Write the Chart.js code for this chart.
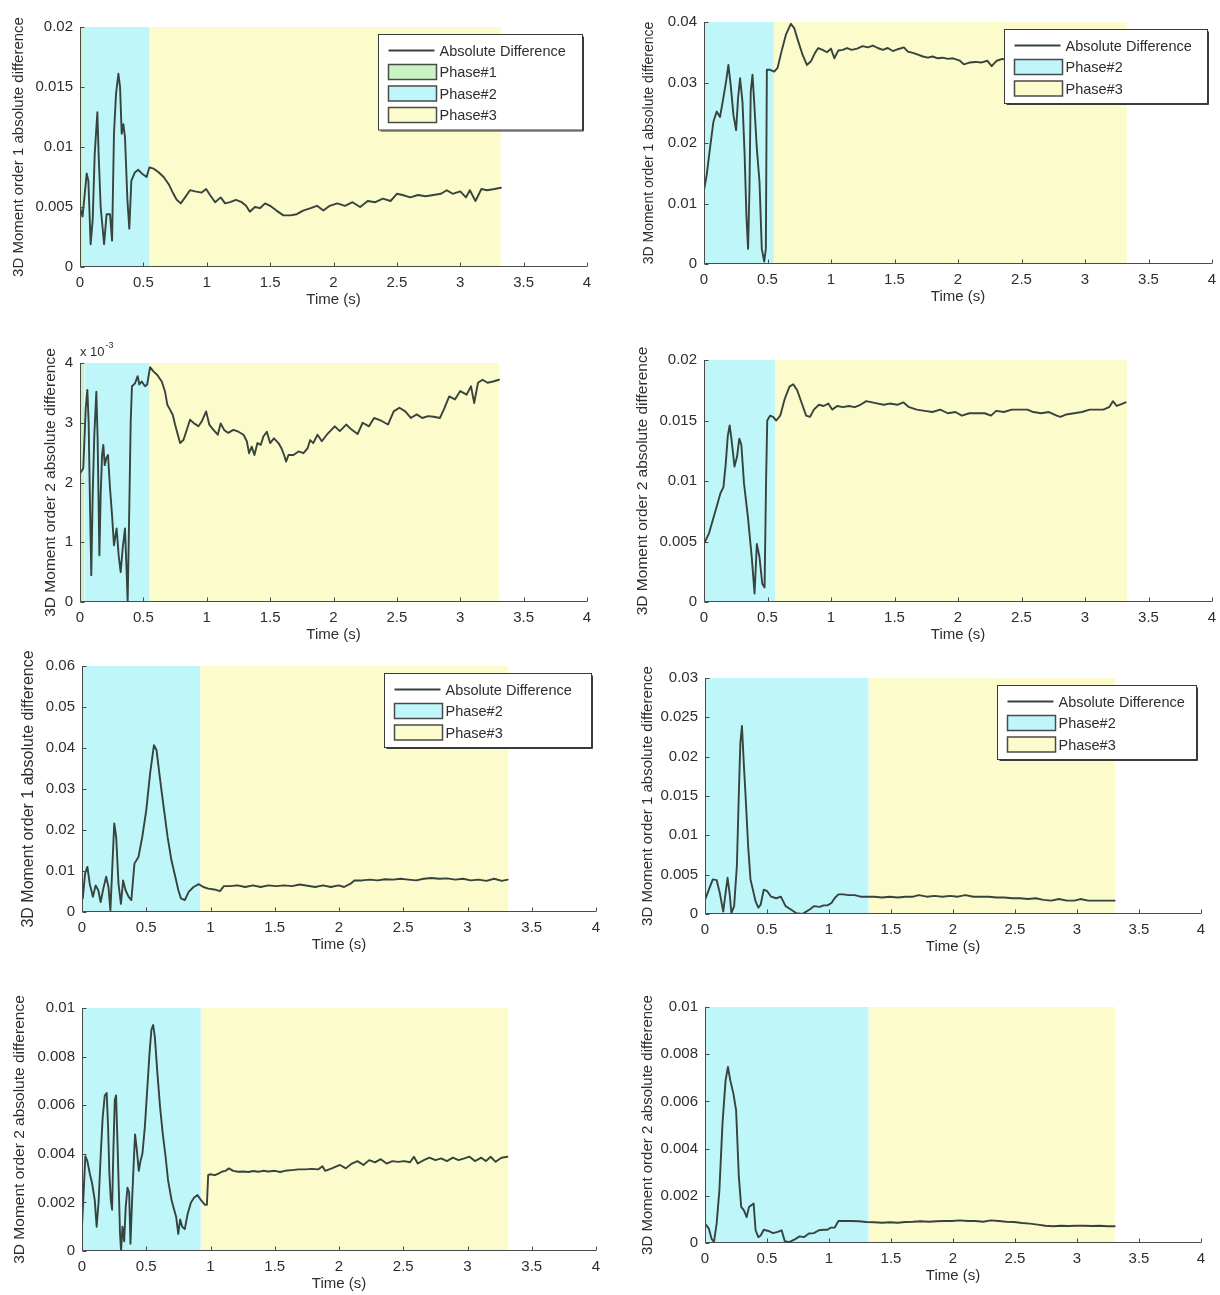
<!DOCTYPE html>
<html><head><meta charset="utf-8">
<script src="https://cdn.jsdelivr.net/npm/chart.js@4/dist/chart.umd.min.js"></script>
<style>
html,body{margin:0;padding:0;background:#fff;}
body{width:1220px;height:1295px;position:relative;overflow:hidden;}
canvas{position:absolute;}
</style>
</head><body>
<canvas id="c1"></canvas><canvas id="c2"></canvas><canvas id="c3"></canvas><canvas id="c4"></canvas>
<canvas id="c5"></canvas><canvas id="c6"></canvas><canvas id="c7"></canvas><canvas id="c8"></canvas>
<script>
// ---------------- DATA ----------------
const TIME_TICKS = [0,0.5,1,1.5,2,2.5,3,3.5,4];
const TIME_LABELS = ['0','0.5','1','1.5','2','2.5','3','3.5','4'];
const X_TITLE = 'Time (s)';
const Y_TITLE_1 = '3D Moment order 1 absolute difference';
const Y_TITLE_2 = '3D Moment order 2 absolute difference';
const LEGEND_3 = ['Absolute Difference','Phase#1','Phase#2','Phase#3'];
const LEGEND_2 = ['Absolute Difference','Phase#2','Phase#3'];

// phases: [phase number, start time, end time]
const PHASES_1 = [[1,0,0.03],[2,0.03,0.55],[3,0.55,3.32]];
const PHASES_2 = [[2,0,0.55],[3,0.55,3.33]];
const PHASES_3 = [[1,0,0.035],[2,0.035,0.55],[3,0.55,3.31]];
const PHASES_4 = [[2,0,0.56],[3,0.56,3.33]];
const PHASES_5 = [[2,0,0.92],[3,0.92,3.32]];
const PHASES_6 = [[2,0,1.32],[3,1.32,3.31]];
const PHASES_7 = [[2,0,0.925],[3,0.925,3.32]];
const PHASES_8 = [[2,0,1.32],[3,1.32,3.31]];

const Y_TICKS_1 = [0,0.005,0.01,0.015,0.02];  const Y_LABELS_1 = ['0','0.005','0.01','0.015','0.02'];
const Y_TICKS_2 = [0,0.01,0.02,0.03,0.04];    const Y_LABELS_2 = ['0','0.01','0.02','0.03','0.04'];
const Y_TICKS_3 = [0,1,2,3,4];                const Y_LABELS_3 = ['0','1','2','3','4'];
const Y_TICKS_4 = [0,0.005,0.01,0.015,0.02];  const Y_LABELS_4 = ['0','0.005','0.01','0.015','0.02'];
const Y_TICKS_5 = [0,0.01,0.02,0.03,0.04,0.05,0.06]; const Y_LABELS_5 = ['0','0.01','0.02','0.03','0.04','0.05','0.06'];
const Y_TICKS_6 = [0,0.005,0.01,0.015,0.02,0.025,0.03]; const Y_LABELS_6 = ['0','0.005','0.01','0.015','0.02','0.025','0.03'];
const Y_TICKS_7 = [0,0.002,0.004,0.006,0.008,0.01]; const Y_LABELS_7 = ['0','0.002','0.004','0.006','0.008','0.01'];
const Y_TICKS_8 = [0,0.002,0.004,0.006,0.008,0.01]; const Y_LABELS_8 = ['0','0.002','0.004','0.006','0.008','0.01'];

const T1 = [0,0.02,0.053,0.066,0.084,0.10,0.116,0.137,0.147,0.163,0.19,0.21,0.237,0.253,0.268,0.284,0.303,0.316,0.329,0.342,0.355,0.374,0.389,0.405,0.434,0.46,0.487,0.526,0.547,0.58,0.62,0.66,0.70,0.737,0.763,0.795,0.829,0.868,0.908,0.96,0.995,1.026,1.066,1.11,1.145,1.184,1.23,1.276,1.31,1.34,1.38,1.42,1.46,1.50,1.55,1.605,1.66,1.71,1.76,1.82,1.87,1.92,1.97,2.03,2.09,2.15,2.21,2.27,2.33,2.39,2.45,2.5,2.545,2.606,2.667,2.727,2.788,2.848,2.894,2.94,3.0,3.045,3.076,3.12,3.167,3.21,3.27,3.32];
const V1 = [0.005,0.0042,0.0078,0.0072,0.0019,0.0039,0.0094,0.0129,0.0094,0.005,0.0019,0.0044,0.0044,0.0022,0.0111,0.0144,0.0161,0.015,0.0111,0.0119,0.0108,0.0056,0.0032,0.0072,0.0079,0.0081,0.0078,0.0075,0.0083,0.0082,0.0079,0.0075,0.0069,0.0061,0.0056,0.0053,0.0058,0.0064,0.0063,0.0062,0.0065,0.006,0.0054,0.0058,0.0053,0.0054,0.0056,0.0054,0.0051,0.0046,0.005,0.0049,0.0053,0.0051,0.0047,0.0043,0.0043,0.0044,0.0047,0.0049,0.0051,0.0047,0.0051,0.0053,0.0051,0.0054,0.005,0.0055,0.0054,0.0057,0.0055,0.0061,0.006,0.0058,0.006,0.0059,0.006,0.0061,0.0064,0.0061,0.0063,0.0058,0.0064,0.0055,0.0065,0.0064,0.0065,0.0066];

const T2 = [0,0.021,0.047,0.074,0.1,0.126,0.147,0.174,0.192,0.21,0.232,0.253,0.268,0.284,0.303,0.32,0.334,0.347,0.358,0.368,0.382,0.395,0.416,0.437,0.455,0.474,0.487,0.495,0.52,0.553,0.579,0.61,0.645,0.684,0.71,0.742,0.776,0.81,0.842,0.874,0.9,0.934,0.968,1.0,1.026,1.058,1.092,1.126,1.163,1.205,1.25,1.29,1.33,1.368,1.408,1.447,1.487,1.526,1.574,1.605,1.645,1.684,1.724,1.763,1.8,1.84,1.88,1.92,1.96,2.015,2.046,2.09,2.137,2.183,2.23,2.265,2.305,2.35,2.45,2.6,2.75,2.9,3.05,3.2,3.33];
const V2 = [0.0122,0.0147,0.0191,0.0235,0.0252,0.0243,0.0268,0.0302,0.0329,0.0296,0.0246,0.0221,0.0274,0.0307,0.0268,0.018,0.008,0.0025,0.0124,0.0285,0.0313,0.0268,0.0191,0.0136,0.0025,0.0004,0.0025,0.0321,0.0321,0.0318,0.0324,0.0351,0.0379,0.0397,0.039,0.0368,0.0346,0.0329,0.0335,0.0349,0.0357,0.0354,0.035,0.0356,0.034,0.0353,0.0354,0.0357,0.0354,0.0356,0.036,0.0358,0.0361,0.0357,0.0354,0.0357,0.0352,0.0355,0.0358,0.0351,0.0349,0.0346,0.0343,0.0341,0.0343,0.034,0.0341,0.0339,0.034,0.0336,0.033,0.0333,0.0334,0.0333,0.0336,0.0327,0.0336,0.0339,0.0332,0.0334,0.0331,0.0333,0.033,0.0332,0.0331];

// values in units of 10^-3 (axis shows x 10^-3)
const T3 = [0,0.026,0.045,0.058,0.068,0.079,0.089,0.1,0.113,0.129,0.139,0.153,0.163,0.174,0.184,0.195,0.208,0.221,0.237,0.253,0.268,0.289,0.305,0.321,0.337,0.355,0.368,0.376,0.387,0.4,0.41,0.434,0.455,0.468,0.487,0.513,0.53,0.553,0.579,0.61,0.645,0.671,0.689,0.71,0.732,0.75,0.768,0.79,0.816,0.842,0.868,0.9,0.934,0.96,0.995,1.02,1.053,1.087,1.11,1.137,1.17,1.21,1.25,1.29,1.316,1.334,1.355,1.376,1.4,1.426,1.447,1.474,1.5,1.53,1.566,1.59,1.61,1.626,1.645,1.684,1.724,1.763,1.795,1.816,1.84,1.874,1.908,1.947,2.01,2.05,2.1,2.14,2.19,2.23,2.28,2.32,2.38,2.43,2.475,2.52,2.566,2.61,2.657,2.7,2.747,2.79,2.84,2.87,2.913,2.958,3.0,3.05,3.085,3.11,3.14,3.176,3.215,3.26,3.306];
const V3 = [2.15,2.24,3.24,3.55,3.02,1.62,0.45,1.79,2.8,3.52,2.74,0.78,1.79,2.46,2.63,2.29,2.41,2.46,1.9,1.45,0.95,1.23,0.78,0.5,0.9,1.23,0.5,0.0,1.34,3.02,3.61,3.66,3.78,3.64,3.69,3.61,3.64,3.93,3.86,3.8,3.69,3.52,3.3,3.22,3.13,2.97,2.83,2.66,2.71,2.88,3.05,2.99,2.94,3.02,3.19,2.97,2.88,2.8,2.99,2.88,2.83,2.88,2.85,2.8,2.69,2.49,2.6,2.46,2.66,2.63,2.77,2.85,2.66,2.74,2.66,2.57,2.46,2.35,2.46,2.46,2.52,2.49,2.57,2.71,2.66,2.8,2.69,2.8,2.94,2.86,2.97,2.89,2.81,3.0,2.94,3.08,3.03,2.97,3.19,3.25,3.19,3.08,3.14,3.08,3.11,3.1,3.08,3.22,3.44,3.39,3.53,3.47,3.61,3.33,3.67,3.72,3.67,3.69,3.72];

const T4 = [0,0.04,0.07,0.1,0.13,0.153,0.171,0.187,0.202,0.217,0.24,0.26,0.278,0.294,0.315,0.346,0.376,0.398,0.416,0.437,0.459,0.477,0.489,0.498,0.52,0.544,0.569,0.6,0.636,0.673,0.703,0.734,0.774,0.804,0.835,0.865,0.905,0.942,0.979,1.009,1.049,1.095,1.14,1.187,1.232,1.278,1.324,1.37,1.416,1.462,1.523,1.569,1.615,1.676,1.737,1.798,1.86,1.92,1.98,2.03,2.09,2.15,2.21,2.26,2.3,2.36,2.425,2.486,2.547,2.593,2.654,2.716,2.777,2.807,2.853,2.914,2.976,3.037,3.098,3.144,3.19,3.22,3.25,3.297,3.32];
const V4 = [0.0048,0.0057,0.0068,0.0079,0.009,0.0095,0.0114,0.0137,0.0146,0.0134,0.0112,0.012,0.0135,0.013,0.0098,0.007,0.0037,0.0007,0.0048,0.0037,0.0015,0.0012,0.0101,0.015,0.0154,0.0153,0.015,0.0154,0.0168,0.0178,0.018,0.0175,0.0163,0.0154,0.0153,0.0159,0.0163,0.0162,0.0164,0.0159,0.0162,0.0161,0.0162,0.0161,0.0163,0.0166,0.0165,0.0164,0.0163,0.0164,0.0163,0.0165,0.0161,0.0159,0.0158,0.0157,0.0159,0.0156,0.0157,0.0154,0.0156,0.0156,0.0156,0.0154,0.0158,0.0157,0.0159,0.0159,0.0159,0.0157,0.0156,0.0157,0.0154,0.0153,0.0155,0.0156,0.0157,0.0159,0.0159,0.0159,0.0161,0.0166,0.0162,0.0164,0.0165];

const T5 = [0.006,0.024,0.042,0.06,0.085,0.106,0.127,0.145,0.166,0.188,0.206,0.221,0.236,0.251,0.266,0.284,0.303,0.32,0.339,0.363,0.384,0.408,0.439,0.469,0.5,0.53,0.56,0.58,0.605,0.635,0.666,0.696,0.726,0.75,0.77,0.8,0.83,0.868,0.908,0.944,0.983,1.029,1.074,1.104,1.15,1.21,1.27,1.33,1.39,1.45,1.513,1.573,1.634,1.694,1.755,1.815,1.876,1.936,1.997,2.04,2.09,2.12,2.18,2.24,2.3,2.36,2.42,2.48,2.54,2.6,2.66,2.72,2.78,2.84,2.905,2.965,3.026,3.086,3.147,3.207,3.268,3.313];
const V5 = [0.0033,0.0094,0.011,0.0069,0.0037,0.0065,0.0053,0.0024,0.0057,0.0086,0.0061,0.0004,0.011,0.0216,0.0183,0.0069,0.002,0.0077,0.0053,0.0037,0.0029,0.0118,0.0134,0.0183,0.0248,0.0338,0.0407,0.0395,0.033,0.0257,0.0183,0.0126,0.0086,0.0053,0.0033,0.0029,0.0049,0.0061,0.0068,0.0061,0.0057,0.0055,0.0051,0.0063,0.0063,0.0065,0.0061,0.0065,0.0061,0.0065,0.0063,0.0065,0.0063,0.0067,0.0064,0.0061,0.0065,0.0061,0.0065,0.0061,0.0069,0.0077,0.0077,0.0079,0.0077,0.008,0.0079,0.0081,0.0079,0.0077,0.0081,0.0083,0.0081,0.0082,0.0079,0.0081,0.0077,0.0079,0.0076,0.0081,0.0076,0.0079];

const T6 = [0,0.031,0.063,0.094,0.119,0.147,0.166,0.182,0.198,0.213,0.235,0.257,0.273,0.285,0.298,0.314,0.329,0.348,0.367,0.386,0.408,0.43,0.449,0.474,0.502,0.533,0.574,0.612,0.65,0.69,0.737,0.784,0.816,0.847,0.878,0.925,0.957,0.988,1.02,1.045,1.076,1.114,1.16,1.208,1.255,1.302,1.365,1.427,1.49,1.553,1.616,1.678,1.725,1.788,1.851,1.914,1.976,2.039,2.1,2.165,2.227,2.29,2.353,2.416,2.478,2.541,2.604,2.667,2.73,2.792,2.855,2.918,2.98,3.027,3.09,3.153,3.216,3.263,3.303];
const V6 = [0.0018,0.0031,0.0044,0.0043,0.0027,0.0003,0.0027,0.0046,0.0027,0.0001,0.001,0.0061,0.0154,0.0217,0.0239,0.0188,0.0145,0.0086,0.0044,0.0031,0.0016,0.0008,0.0012,0.0031,0.0029,0.0022,0.002,0.0022,0.001,0.0006,0.0001,0.0,0.0003,0.0006,0.001,0.0009,0.0011,0.0011,0.0014,0.002,0.0025,0.0025,0.0024,0.0024,0.0022,0.0022,0.0022,0.0021,0.0022,0.0021,0.0022,0.0022,0.0024,0.0022,0.0023,0.0022,0.0023,0.0022,0.0024,0.0022,0.0022,0.0022,0.0021,0.0021,0.002,0.002,0.0019,0.002,0.0018,0.0017,0.0019,0.0017,0.0017,0.0019,0.0017,0.0017,0.0017,0.0017,0.0017];

const T7 = [0,0.01,0.026,0.042,0.06,0.078,0.099,0.114,0.13,0.146,0.161,0.177,0.192,0.203,0.213,0.224,0.234,0.244,0.255,0.265,0.276,0.286,0.296,0.304,0.315,0.328,0.34,0.354,0.367,0.377,0.39,0.403,0.413,0.426,0.442,0.455,0.47,0.489,0.507,0.525,0.54,0.554,0.567,0.587,0.608,0.629,0.65,0.67,0.697,0.717,0.733,0.749,0.764,0.78,0.8,0.821,0.848,0.873,0.899,0.925,0.957,0.972,
  0.982,0.995,1.034,1.066,1.086,1.118,1.143,1.177,1.216,1.255,1.294,1.333,1.372,1.411,1.45,1.502,1.541,1.58,1.632,1.684,1.736,1.788,1.84,1.871,1.892,1.944,
  2.008,2.053,2.1,2.144,2.19,2.235,2.28,2.325,2.37,2.416,2.46,2.507,2.553,2.583,2.613,2.66,2.704,2.75,2.795,2.84,2.886,2.93,2.976,3.016,3.058,3.107,3.143,3.18,3.219,3.264,3.31];
const V7 = [0.001,0.0021,0.0039,0.0037,0.0032,0.0028,0.0021,0.001,0.0021,0.004,0.0055,0.0064,0.0065,0.0051,0.0032,0.0021,0.0017,0.0041,0.0062,0.0064,0.0045,0.0026,0.0007,0.0,0.001,0.0004,0.0018,0.0026,0.0024,0.0003,0.0021,0.0037,0.0048,0.0042,0.0033,0.0037,0.004,0.0051,0.0066,0.0081,0.0091,0.0093,0.0088,0.0073,0.0059,0.0048,0.0039,0.0029,0.0021,0.0017,0.0014,0.0007,0.0013,0.001,0.0009,0.0015,0.002,0.0022,0.0023,0.0021,0.0019,0.0019,
  0.00312,0.00316,0.00312,0.00319,0.00326,0.0033,0.0034,0.0033,0.00326,0.00327,0.00325,0.00329,0.00326,0.0033,0.00327,0.0033,0.00325,0.0033,0.00333,0.00336,0.00336,0.00338,0.00336,0.00349,0.0033,0.0034,
  0.00354,0.0034,0.0036,0.0037,0.00354,0.00374,0.00365,0.00378,0.0036,0.0037,0.00367,0.0037,0.00365,0.00388,0.0036,0.00374,0.00384,0.00374,0.00381,0.0037,0.00384,0.00374,0.00381,0.00388,0.0037,0.00384,0.0037,0.00388,0.00367,0.00384,0.00388];

const T8 = [0,0.031,0.053,0.072,0.094,0.116,0.141,0.166,0.185,0.204,0.229,0.251,0.273,0.292,0.314,0.336,0.355,0.373,0.392,0.408,0.43,0.449,0.474,0.511,0.549,0.587,0.618,0.643,0.68,0.72,0.762,0.8,0.838,0.878,0.919,0.957,0.988,1.013,1.045,1.076,1.114,1.176,1.239,1.302,1.365,1.427,1.49,1.553,1.616,1.678,1.741,1.804,1.867,1.929,1.992,2.055,2.118,2.18,2.243,2.306,2.369,2.431,2.494,2.557,2.62,2.682,2.745,2.808,2.871,2.933,2.996,3.059,3.122,3.184,3.247,3.304];
const V8 = [0.00082,0.00061,0.00018,0.00004,0.00082,0.00223,0.00506,0.00689,0.00746,0.00689,0.00633,0.00562,0.0028,0.00153,0.00138,0.0011,0.00153,0.0016,0.00167,0.00054,0.00025,0.00032,0.00056,0.00051,0.00042,0.00047,0.00054,0.00008,0.00004,0.00014,0.00028,0.00025,0.0004,0.00042,0.00054,0.00056,0.00056,0.00065,0.00065,0.00093,0.00093,0.00093,0.00092,0.00089,0.00088,0.00086,0.00088,0.00086,0.00089,0.0009,0.00092,0.0009,0.00092,0.00093,0.00093,0.00096,0.00093,0.00093,0.0009,0.00096,0.00093,0.0009,0.00089,0.00085,0.00082,0.00078,0.00073,0.00071,0.00073,0.00072,0.00073,0.00073,0.00072,0.00073,0.00071,0.00071];

// ---------------- STYLE / LAYOUT ----------------
const FONT = "'Liberation Sans', Arial, Helvetica, sans-serif";
const TEXT = '#2e2e2e';
const LINE_COLOR = '#37433d';
const AXIS_COLOR = '#4a4a4a';
const PHASE_COLORS = {1:'#c9f3c3', 2:'#bff6fa', 3:'#fcfbcb'};
const LEGEND_BG = '#ffffff';

// plot-area box in page pixels + y-axis block width + y-title font
const LAYOUT = [
  {L:80,  R:587,  T:27,   B:267,  YW:70, tf:15,   PT:22, legW:204},
  {L:704, R:1212, T:22,   B:264,  YW:63, tf:14,   PT:20, legW:203},
  {L:80,  R:587,  T:363,  B:602,  YW:39, tf:15.5, PT:30},
  {L:704, R:1212, T:360,  B:602,  YW:71, tf:15.5, PT:22},
  {L:82,  R:596,  T:666,  B:912,  YW:63, tf:16,   PT:22, legW:207},
  {L:705, R:1201, T:678,  B:914,  YW:66, tf:15,   PT:22, legW:199},
  {L:82,  R:596,  T:1008, B:1251, YW:72, tf:15.5, PT:22},
  {L:705, R:1201, T:1007, B:1243, YW:66, tf:15,   PT:22}
];
const XH = 44, PR = 22;

const PANELS = [
  {time:T1, values:V1, yMax:0.02, yTicks:Y_TICKS_1, yLabels:Y_LABELS_1, yTitle:Y_TITLE_1, phases:PHASES_1, legend:LEGEND_3},
  {time:T2, values:V2, yMax:0.04, yTicks:Y_TICKS_2, yLabels:Y_LABELS_2, yTitle:Y_TITLE_1, phases:PHASES_2, legend:LEGEND_2},
  {time:T3, values:V3, yMax:4,    yTicks:Y_TICKS_3, yLabels:Y_LABELS_3, yTitle:Y_TITLE_2, phases:PHASES_3, exponent:'-3'},
  {time:T4, values:V4, yMax:0.02, yTicks:Y_TICKS_4, yLabels:Y_LABELS_4, yTitle:Y_TITLE_2, phases:PHASES_4},
  {time:T5, values:V5, yMax:0.06, yTicks:Y_TICKS_5, yLabels:Y_LABELS_5, yTitle:Y_TITLE_1, phases:PHASES_5, legend:LEGEND_2},
  {time:T6, values:V6, yMax:0.03, yTicks:Y_TICKS_6, yLabels:Y_LABELS_6, yTitle:Y_TITLE_1, phases:PHASES_6, legend:LEGEND_2},
  {time:T7, values:V7, yMax:0.01, yTicks:Y_TICKS_7, yLabels:Y_LABELS_7, yTitle:Y_TITLE_2, phases:PHASES_7},
  {time:T8, values:V8, yMax:0.01, yTicks:Y_TICKS_8, yLabels:Y_LABELS_8, yTitle:Y_TITLE_2, phases:PHASES_8}
];

function matlabPlugin(p, lay) {
  return {
    id: 'matlabLook',
    afterDatasetsDraw(chart) {
      const {ctx, chartArea: a, scales: {x, y}} = chart;
      ctx.save();
      // axes lines + inward ticks
      ctx.strokeStyle = AXIS_COLOR; ctx.lineWidth = 1;
      const bx = Math.round(a.left) + 0.5, by = Math.round(a.bottom) - 0.5;
      ctx.beginPath();
      ctx.moveTo(bx, a.top); ctx.lineTo(bx, by); ctx.lineTo(a.right, by);
      x.ticks.forEach(t => { const px = Math.round(x.getPixelForValue(t.value)) + 0.5; ctx.moveTo(px, by); ctx.lineTo(px, by - 4); });
      y.ticks.forEach(t => { const py = Math.round(y.getPixelForValue(t.value)) + 0.5; ctx.moveTo(bx, py); ctx.lineTo(bx + 4, py); });
      ctx.stroke();
      // exponent label
      if (p.exponent) {
        ctx.fillStyle = TEXT; ctx.textBaseline = 'alphabetic'; ctx.textAlign = 'left';
        ctx.font = `13px ${FONT}`;
        const base = 'x 10';
        ctx.fillText(base, a.left, a.top - 7);
        const w = ctx.measureText(base).width;
        ctx.font = `9px ${FONT}`;
        ctx.fillText(p.exponent, a.left + w + 1, a.top - 15);
      }
      // legend
      if (p.legend) {
        const n = p.legend.length, w = lay.legW, rowH = 21.5;
        const h = 16 + (n - 1) * rowH + 15;
        const lx = Math.round(a.right - 5 - w) + 0.5, ly = Math.round(a.top + 7) + 0.5;
        ctx.fillStyle = LEGEND_BG; ctx.fillRect(lx, ly, w, h);
        ctx.strokeStyle = '#3a3a3a'; ctx.lineWidth = 1; ctx.strokeRect(lx, ly, w, h);
        ctx.beginPath(); ctx.moveTo(lx + w + 1, ly + 2); ctx.lineTo(lx + w + 1, ly + h + 1); ctx.lineTo(lx + 2, ly + h + 1); ctx.stroke();
        ctx.font = `14.5px ${FONT}`; ctx.textBaseline = 'middle'; ctx.textAlign = 'left';
        p.legend.forEach((label, i) => {
          const cy = ly + 16 + i * rowH;
          if (i === 0) {
            ctx.strokeStyle = LINE_COLOR; ctx.lineWidth = 1.8;
            ctx.beginPath(); ctx.moveTo(lx + 10, cy); ctx.lineTo(lx + 56, cy); ctx.stroke();
          } else {
            const num = parseInt(label.replace('Phase#', ''), 10);
            ctx.fillStyle = PHASE_COLORS[num];
            ctx.fillRect(lx + 10, cy - 7.5, 48, 15);
            ctx.strokeStyle = '#4a4a4a'; ctx.lineWidth = 1.5;
            ctx.strokeRect(lx + 10, cy - 7.5, 48, 15);
          }
          ctx.fillStyle = TEXT;
          ctx.fillText(label, lx + 61, cy + 1);
        });
      }
      ctx.restore();
    }
  };
}

PANELS.forEach((p, idx) => {
  const lay = LAYOUT[idx];
  const cv = document.getElementById('c' + (idx + 1));
  const w = lay.YW + (lay.R - lay.L) + PR;
  const h = lay.PT + (lay.B - lay.T) + XH;
  cv.width = w; cv.height = h;
  cv.style.width = w + 'px'; cv.style.height = h + 'px';
  cv.style.left = (lay.L - lay.YW) + 'px';
  cv.style.top = (lay.T - lay.PT) + 'px';

  const bands = p.phases.map(([num, s, e]) => ({
    type: 'line',
    data: [{x: s, y: p.yMax}, {x: e, y: p.yMax}],
    borderColor: 'transparent', borderWidth: 0, pointRadius: 0,
    backgroundColor: PHASE_COLORS[num], fill: 'origin', order: 2
  }));
  const series = {
    type: 'line',
    data: p.time.map((t, i) => ({x: t, y: p.values[i]})),
    borderColor: LINE_COLOR, borderWidth: 1.9, pointRadius: 0, tension: 0,
    fill: false, order: 0, borderJoinStyle: 'round', borderCapStyle: 'round'
  };

  new Chart(cv, {
    type: 'line',
    data: {datasets: [...bands, series]},
    options: {
      responsive: false, animation: false, devicePixelRatio: 1, events: [],
      layout: {padding: {top: lay.PT, right: PR, left: 0, bottom: 0}},
      plugins: {legend: {display: false}, tooltip: {enabled: false}, title: {display: false}},
      scales: {
        x: {
          type: 'linear', min: 0, max: 4,
          grid: {display: false, drawTicks: false}, border: {display: false},
          afterBuildTicks: s => { s.ticks = TIME_TICKS.map(v => ({value: v})); },
          afterFit: s => { s.height = XH; },
          ticks: {autoSkip: false, maxRotation: 0, padding: 7, color: TEXT,
                  font: {family: FONT, size: 15}, callback: (v, i) => TIME_LABELS[i]},
          title: {display: true, text: X_TITLE, color: TEXT, font: {family: FONT, size: 15},
                  padding: {top: 0, bottom: 2}}
        },
        y: {
          type: 'linear', min: 0, max: p.yMax,
          grid: {display: false, drawTicks: false}, border: {display: false},
          afterBuildTicks: s => { s.ticks = p.yTicks.map(v => ({value: v})); },
          afterFit: s => { s.width = lay.YW; },
          ticks: {autoSkip: false, padding: 7, color: TEXT,
                  font: {family: FONT, size: 15}, callback: (v, i) => p.yLabels[i]},
          title: {display: true, text: p.yTitle, color: TEXT, font: {family: FONT, size: lay.tf},
                  padding: {top: 0, bottom: 0}}
        }
      }
    },
    plugins: [matlabPlugin(p, lay)]
  });
});
</script>
</body></html>
